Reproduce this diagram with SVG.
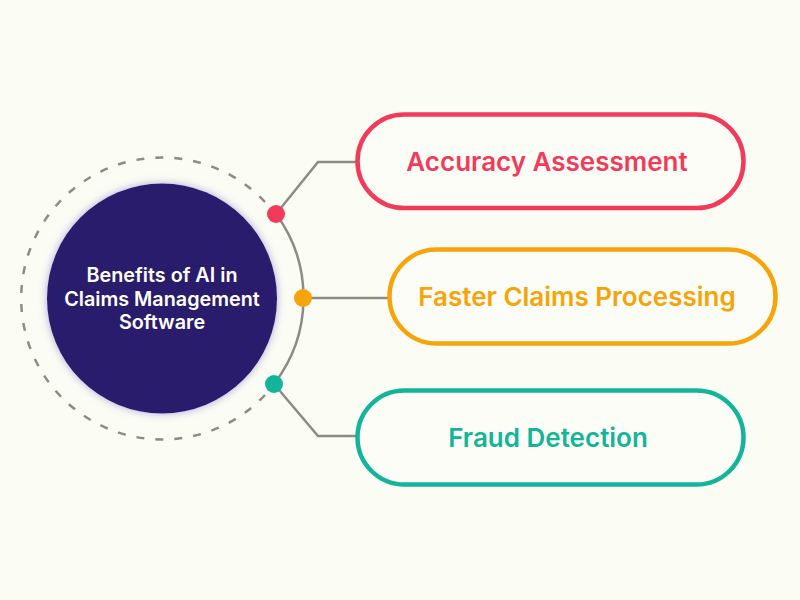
<svg xmlns="http://www.w3.org/2000/svg" width="800" height="600" viewBox="0 0 800 600">
<style>
.conn{fill:none;stroke:#8c8c84;stroke-width:2.5}
.pill{fill:#fcfdf7;stroke-width:4.5}
.lbl{font-family:Inter,"Noto Sans",sans-serif;font-weight:600;font-size:26px;text-anchor:middle}
.ctr{font-family:Inter,"Noto Sans",sans-serif;font-weight:600;font-size:19.8px;text-anchor:middle;fill:#ffffff}
</style>
<defs>
<filter id="glow" x="-30%" y="-30%" width="160%" height="160%">
<feGaussianBlur in="SourceAlpha" stdDeviation="5"/>
<feFlood flood-color="#7a6fd0" flood-opacity="0.6"/>
<feComposite operator="in" in2="SourceAlpha"/>
<feGaussianBlur stdDeviation="4"/>
<feMerge><feMergeNode/><feMergeNode in="SourceGraphic"/></feMerge>
</filter>
</defs>
<rect width="800" height="600" fill="#fbfdf4"/>
<g id="connectors">
<path class="conn" d="M 265 395 A 141 141 0 1 1 265 202" stroke-dasharray="8 11"/>
<path class="conn" d="M 276 214 A 141 141 0 0 1 274 384"/>
<polyline class="conn" points="276,214 318,162 357,162"/>
<polyline class="conn" points="303,298 388,298"/>
<polyline class="conn" points="274,384 318,436 357,436"/>
</g>
<g id="center">
<circle cx="162" cy="298.5" r="115" fill="#2c1f6c" filter="url(#glow)"/>
<text class="ctr" x="162" y="282">Benefits of AI in</text>
<text class="ctr" x="162" y="306">Claims Management</text>
<text class="ctr" x="162" y="329">Software</text>
</g>
<g id="dots">
<circle cx="276" cy="214" r="9" fill="#f23b5a"/>
<circle cx="303" cy="298" r="9" fill="#f7a30a"/>
<circle cx="274" cy="384" r="9" fill="#13b59a"/>
</g>
<g id="node-accuracy">
<rect class="pill" x="357.5" y="114.5" width="386" height="93.5" rx="46.75" stroke="#f23b5a"/>
<text class="lbl" x="547" y="170.5" fill="#f23b5a">Accuracy Assessment</text>
</g>
<g id="node-faster">
<rect class="pill" x="389.5" y="249.5" width="386" height="94" rx="47" stroke="#f7a30a"/>
<text class="lbl" x="577" y="306" fill="#f7a30a">Faster Claims Processing</text>
</g>
<g id="node-fraud">
<rect class="pill" x="357.5" y="390.5" width="386" height="94" rx="47" stroke="#13b59a"/>
<text class="lbl" x="548" y="447" fill="#13b59a">Fraud Detection</text>
</g>
</svg>
